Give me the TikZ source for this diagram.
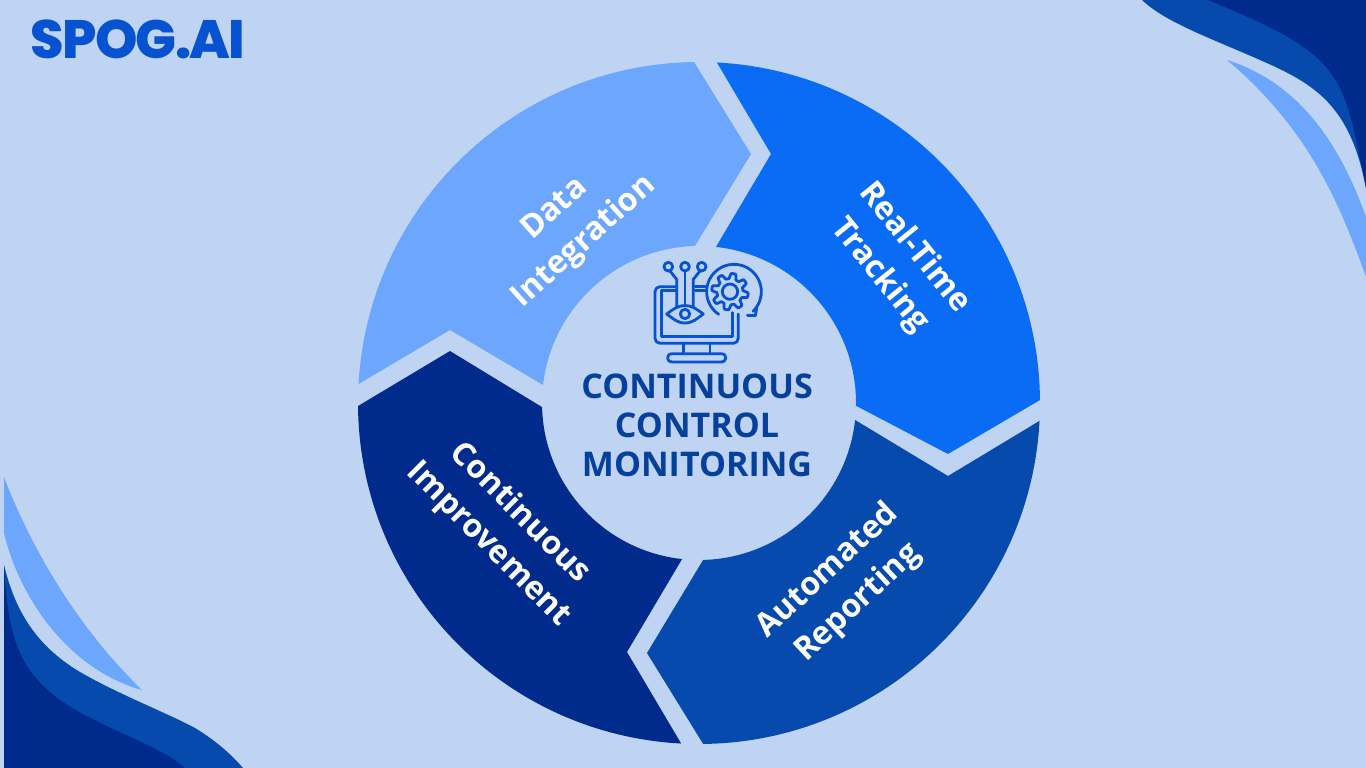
\documentclass[tikz,border=0pt]{standalone}
\usepackage{fontspec}
\setmainfont{Open Sans}
\newfontfamily\logofont[LetterSpace=-3]{Poppins ExtraBold}
\definecolor{bgc}{HTML}{BFD4F2}
\definecolor{lightb}{HTML}{6CA6FD}
\definecolor{brightb}{HTML}{0A6CF5}
\definecolor{midb}{HTML}{064AAD}
\definecolor{darkb}{HTML}{002B8C}
\definecolor{iconb}{HTML}{0652D0}
\definecolor{titleb}{HTML}{05409A}
\tikzset{
 seglabel/.style={text=white,font=\fontsize{32}{44}\selectfont\bfseries,align=center,inner sep=0pt},
 titlelabel/.style={text=titleb,font=\fontsize{34}{39}\selectfont\bfseries,align=center,inner sep=0pt},
 iconline/.style={draw=iconb,line width=2.8pt,line cap=round,line join=round}
}
\begin{document}
\begin{tikzpicture}[x=1pt,y=-1pt]
\useasboundingbox (0,0) rectangle (1366,768);
\fill[bgc] (0,0) rectangle (1366,768);
% top right corner
\fill[midb] (1142,0) .. controls (1165,22) and (1210,38) .. (1260,60) .. controls (1315,84) and (1350,105) .. (1366,188) -- (1366,0) -- cycle;
\fill[darkb] (1208,0) .. controls (1260,22) and (1310,42) .. (1332,75) .. controls (1350,100) and (1355,135) .. (1366,188) -- (1366,0) -- cycle;
\fill[lightb] (1227,60) .. controls (1290,80) and (1335,130) .. (1366,217) -- (1366,277) .. controls (1340,205) and (1310,130) .. (1227,60) -- cycle;
% bottom left corner
\fill[midb] (4,565) .. controls (15,610) and (35,645) .. (80,672) .. controls (120,695) and (165,712) .. (195,728) .. controls (215,740) and (232,755) .. (243,768) -- (4,768) -- cycle;
\fill[darkb] (4,565) .. controls (8,640) and (20,670) .. (60,700) .. controls (100,728) and (160,745) .. (185,768) -- (4,768) -- cycle;
\fill[lightb] (4,477) .. controls (30,545) and (75,625) .. (142,690) .. controls (70,670) and (20,600) .. (4,533) -- cycle;
% logo
\node[text=iconb,font=\fontsize{54}{54}\logofont,inner sep=0pt] (logo) at (138,39) {SPOG.AI};
% ring
\begin{scope}[shift={(699,403)},y=1pt]
\fill[lightb] (176.8:341) arc[start angle=176.8,end angle=90.84,radius=341pt] -- (52,249) -- (91.5:157) arc[start angle=91.5,end angle=173.4,radius=157pt] -- (-249,73) -- cycle;
\fill[brightb] (87:341) arc[start angle=87,end angle=0.5,radius=341pt] -- (249,-51) -- (-1:157) arc[start angle=-1,end angle=83.8,radius=157pt] -- (72,249) -- cycle;
\fill[midb] (-3:341) arc[start angle=-3,end angle=-89.3,radius=341pt] -- (-52,-250) -- (-88.5:157) arc[start angle=-88.5,end angle=-6.2,radius=157pt] -- (249,-73) -- cycle;
\fill[darkb] (-93:341) arc[start angle=-93,end angle=-179.5,radius=341pt] -- (-249,52) -- (-178.5:157) arc[start angle=-178.5,end angle=-96.2,radius=157pt] -- (-72,-249) -- cycle;
\end{scope}
% labels
\node[seglabel,rotate=42] (data) at (570,226) {Data\\Integration};
\node[seglabel,rotate=-51] (track) at (897,262) {Real-Time\\Tracking};
\node[seglabel,rotate=43] (auto) at (843,587) {Automated\\Reporting};
\node[seglabel,rotate=-45] (impr) at (504,529) {Continuous\\Improvement};
\node[titlelabel] (title) at (697,425) {CONTINUOUS\\CONTROL\\MONITORING};
% icon
\begin{scope}[shift={(620,240)},x=0.3333pt,y=-0.3333pt]
\draw[iconline] (170,140) -- (120,140) to[out=180,in=90] (105,155) -- (105,295) to[out=-90,in=180] (120,310) -- (340,310) to[out=0,in=-90] (355,295) -- (355,222);
\draw[iconline] (225,140) -- (260,140) (225,152) -- (258,152) (170,152) -- (125,152);
\draw[iconline] (125,152) -- (125,290) -- (338,290) -- (338,218);
\draw[iconline] (190,310) -- (190,340) (270,310) -- (270,340);
\draw[iconline] (155,341) -- (305,341) to[out=0,in=90] (317,352) -- (317,355) to[out=-90,in=0] (305,366) -- (155,366) to[out=180,in=-90] (143,355) -- (143,352) to[out=90,in=180] cycle;
\draw[iconline] (140,222) to[out=35,in=180] (195,197) to[out=0,in=145] (250,222) to[out=-145,in=0] (195,249) to[out=180,in=-35] cycle;
\draw[iconline] (195,222) circle (14);
\draw[iconline] (145,80) circle (13) (195,80) circle (13) (245,80) circle (13);
\draw[iconline] (195,94) -- (195,198);
\draw[iconline] (150,93) -- (170,118) -- (170,202);
\draw[iconline] (240,93) -- (220,118) -- (220,202);
\draw[iconline] (330,155) circle (23);
\draw[iconline] plot[domain=0:360,samples=97] ({330+(47+8*tanh(3*sin(8*\x)))*cos(\x)},{155+(47+8*tanh(3*sin(8*\x)))*sin(\x)}) -- cycle;
\draw[iconline] plot[domain=124:406,samples=60] ({342+82*cos(\x)},{155+82*sin(\x)});
\draw[iconline] (382,226) -- (406,227) -- (410,205);
\end{scope}
\end{tikzpicture}
\end{document}
